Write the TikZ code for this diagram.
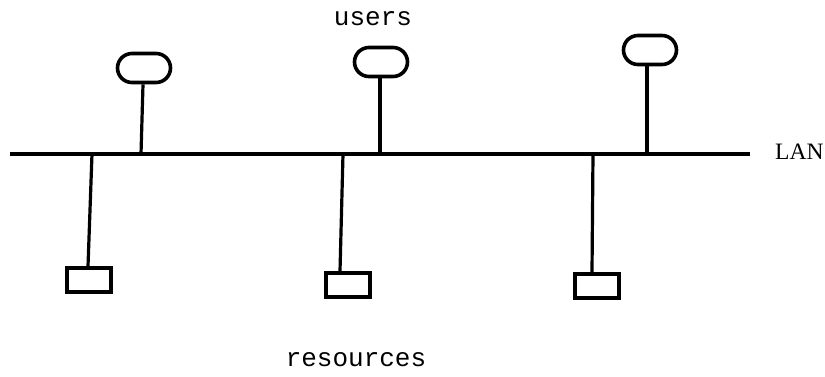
\documentclass[tikz,border=0pt]{standalone}
\usepackage{fontspec}
\newfontfamily\monofont{Liberation Mono}
\newfontfamily\seriffont{Liberation Serif}
\usetikzlibrary{shapes.misc,calc}
\tikzset{
  wire/.style={line width=3.2pt},
  userbox/.style={rounded rectangle, draw, line width=3.6pt, minimum width=53pt, minimum height=29pt, inner sep=0pt},
  resbox/.style={rectangle, draw, line width=3.6pt, minimum width=44pt, minimum height=24pt, inner sep=0pt},
  monolabel/.style={font=\monofont\fontsize{26}{26}\selectfont, anchor=base, inner sep=0pt},
  lanlabel/.style={font=\seriffont\fontsize{23.5}{23.5}\selectfont, anchor=base west, inner sep=0pt}
}
\begin{document}
\begin{tikzpicture}[x=1pt,y=-1pt]
\useasboundingbox (0,0) rectangle (825,376);
% LAN bus
\coordinate (lanL) at (10,154);
\coordinate (lanR) at (750,154);
\draw[wire] (lanL) -- (lanR);
\node[lanlabel] (lan) at (775,159) {LAN};
% users
\node[userbox] (u1) at (144,68) {};
\node[userbox] (u2) at (381,62) {};
\node[userbox] (u3) at (650,50) {};
\coordinate (a1) at (141,154);
\coordinate (a2) at (380,154);
\coordinate (a3) at (647,154);
\draw[wire] ($(u1.south)+(-1,0)$) -- (a1);
\draw[wire] ($(u2.south)+(-1,0)$) -- (a2);
\draw[wire] ($(u3.south)+(-3,0)$) -- (a3);
% resources
\node[resbox] (r1) at (89,280) {};
\node[resbox] (r2) at (348,285) {};
\node[resbox] (r3) at (597,286) {};
\coordinate (b1) at (92,154);
\coordinate (b2) at (343,154);
\coordinate (b3) at (593,154);
\draw[wire] (b1) -- ($(r1.north)+(-1,0)$);
\draw[wire] (b2) -- ($(r2.north)+(-8,0)$);
\draw[wire] (b3) -- ($(r3.north)+(-5,0)$);
% labels
\node[monolabel] (users) at (373,25) {users};
\node[monolabel] (res) at (356,366) {resources};
\end{tikzpicture}
\end{document}
